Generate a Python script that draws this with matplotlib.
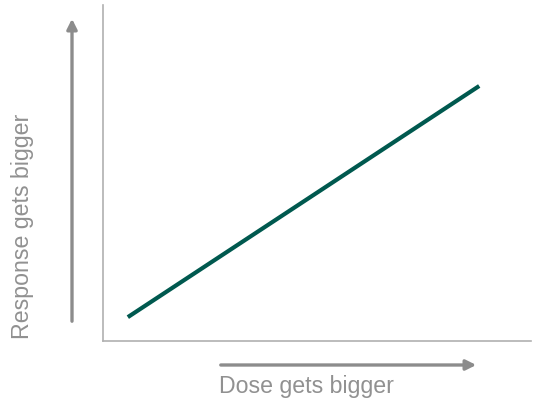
import matplotlib.pyplot as plt

# dose-response line (axes fractions)
dose = [0.058, 0.879]
response = [0.071, 0.759]

x_label = "Dose gets bigger"
y_label = "Response gets bigger"

gray = "#8c8c8c"
teal = "#00594f"

plt.rcParams['font.family'] = ['Liberation Sans', 'DejaVu Sans']

fig = plt.figure(figsize=(5.35, 4.02), dpi=100)
ax = fig.add_axes([103/535, 1-342/402, 428/535, 336/402])
ax.plot(dose, response, color=teal, linewidth=3, solid_capstyle='butt')
ax.set_xlim(0, 1)
ax.set_ylim(0, 1)
ax.set_xticks([])
ax.set_yticks([])
for s in ['top', 'right']:
    ax.spines[s].set_visible(False)
for s in ['left', 'bottom']:
    ax.spines[s].set_color('#b0b0b0')
    ax.spines[s].set_linewidth(1.2)

# arrows outside the axes
fig.patches.append(plt.matplotlib.patches.FancyArrowPatch(
    (218/535, 1-366/402), (479/535, 1-366/402), transform=fig.transFigure,
    arrowstyle='-|>,head_length=6,head_width=3', color=gray, linewidth=2.4))
fig.patches.append(plt.matplotlib.patches.FancyArrowPatch(
    (72/535, 1-325/402), (72/535, 1-17/402), transform=fig.transFigure,
    arrowstyle='-|>,head_length=6,head_width=3', color=gray, linewidth=2.4))

fig.text(306/535, 1-387/402, x_label, color="#919191", fontsize=16.7, ha='center', va='center')
fig.text(23/535, 1-226/402, y_label, color="#919191", fontsize=16.7, ha='center', va='center',
         rotation=90)

fig.savefig("out.png", dpi=100)
